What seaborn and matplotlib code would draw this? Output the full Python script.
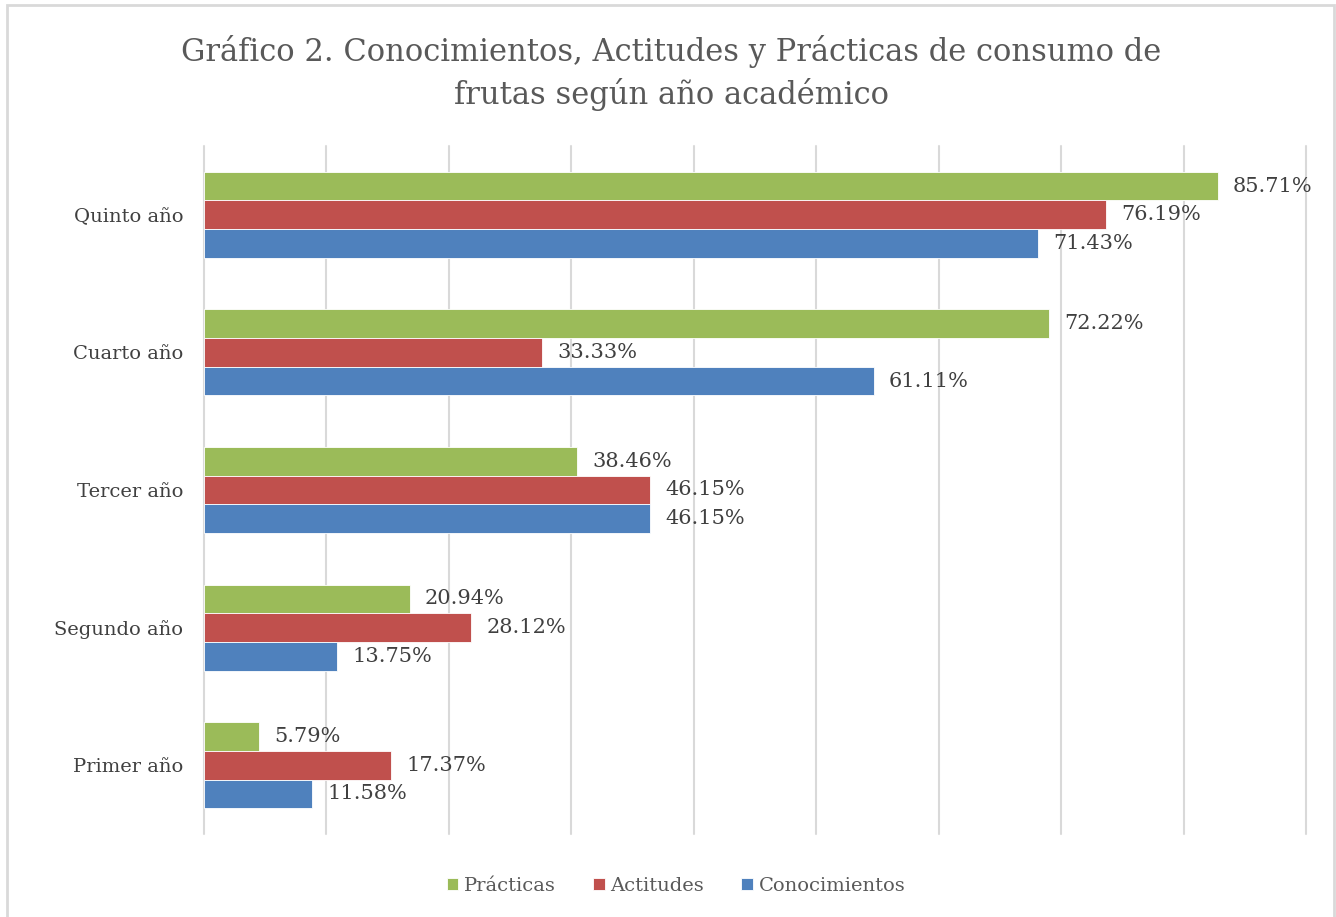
import pandas as pd
import seaborn as sns
import matplotlib.pyplot as plt
from matplotlib.patches import Rectangle

# Data (bar lengths on the gridline scale, labels as printed)
years = ['Quinto año', 'Cuarto año', 'Tercer año', 'Segundo año', 'Primer año']
series = ['Prácticas', 'Actitudes', 'Conocimientos']
practicas = [82.8, 69.0, 30.5, 16.8, 4.5]
actitudes = [73.7, 27.6, 36.4, 21.8, 15.3]
conocimientos = [68.1, 54.7, 36.4, 10.9, 8.8]
lab_practicas = ['85.71%', '72.22%', '38.46%', '20.94%', '5.79%']
lab_actitudes = ['76.19%', '33.33%', '46.15%', '28.12%', '17.37%']
lab_conocimientos = ['71.43%', '61.11%', '46.15%', '13.75%', '11.58%']
colors = ['#9BBB59', '#C0504D', '#4F81BD']

df = pd.DataFrame({
    'year': years * 3,
    'serie': [s for s in series for _ in years],
    'value': practicas + actitudes + conocimientos,
})

sns.set_style('white')
plt.rcParams['font.family'] = ['DejaVu Serif']

fig = plt.figure(figsize=(13.36, 9.17), dpi=100)
ax = fig.add_axes([204 / 1336, 1 - 834 / 917, 1102 / 1336, 688 / 917])

sns.barplot(data=df, x='value', y='year', hue='serie', order=years,
            hue_order=series, palette=colors, saturation=1, orient='h',
            width=0.625, gap=0, edgecolor='white', linewidth=0.6, ax=ax,
            legend=True)

ax.set_xlim(0, 90)
ax.set_xticks(range(0, 91, 10))
ax.set_ylim(4.5, -0.5)
ax.xaxis.grid(True, color='#D9D9D9', linewidth=1.5)
for gl in ax.get_xgridlines():
    gl.set_clip_on(False)
ax.set_axisbelow(True)
ax.tick_params(axis='x', length=0, labelbottom=False)
ax.tick_params(axis='y', length=0, pad=15, labelsize=14, labelcolor='#404040')
for sp in ax.spines.values():
    sp.set_visible(False)
ax.set_xlabel('')
ax.set_ylabel('')

for cont, labs in zip(ax.containers, [lab_practicas, lab_actitudes, lab_conocimientos]):
    ax.bar_label(cont, labels=labs, padding=11, fontsize=15, color='#404040')

handles, labels = ax.get_legend_handles_labels()
ax.get_legend().remove()
fig.legend(handles, labels, loc='center', bbox_to_anchor=(676 / 1336, 1 - 886 / 917),
           ncol=3, frameon=False, fontsize=14, handlelength=0.6, handleheight=0.6,
           handletextpad=0.3, columnspacing=1.9, labelcolor='#595959')

fig.text(671 / 1336, 1 - 73 / 917,
         'Gráfico 2. Conocimientos, Actitudes y Prácticas de consumo de\nfrutas según año académico',
         ha='center', va='center', fontsize=22, color='#595959', linespacing=1.35)

fig.patches.append(Rectangle((7 / 1336, -0.05), 1327 / 1336, 1.05 - 5 / 917,
                             transform=fig.transFigure, fill=False,
                             edgecolor='#D9D9D9', linewidth=2))

fig.savefig('out.png', dpi=100)
